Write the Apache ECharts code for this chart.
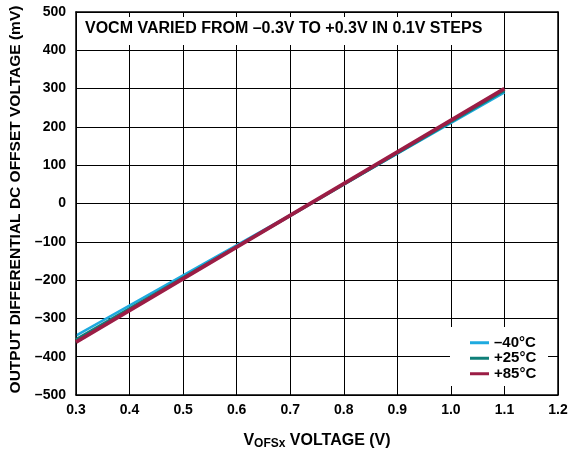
<!DOCTYPE html>
<html><head><meta charset="utf-8">
<script src="https://cdn.jsdelivr.net/npm/echarts@6/dist/echarts.min.js"></script>
<style>html,body{margin:0;padding:0;background:#fff}#c{width:572px;height:450px}</style>
</head><body><div id="c"></div>
<script>
const xValues = [0.3, 0.7, 1.1];
const seriesNames = ['\u201340\u00b0C', '+25\u00b0C', '+85\u00b0C'];
const valsM40 = [-345, -30, 290];
const vals25 = [-355, -32, 295];
const vals85 = [-362, -31, 300];
const xTicks = [0.3, 0.4, 0.5, 0.6, 0.7, 0.8, 0.9, 1.0, 1.1, 1.2];
const yTicks = [-500, -400, -300, -200, -100, 0, 100, 200, 300, 400, 500];
const titleText = 'VOCM VARIED FROM \u20130.3V TO +0.3V IN 0.1V STEPS';
const yTitle = 'OUTPUT DIFFERENTIAL DC OFFSET VOLTAGE (mV)';
const colors = ['#1eaadf', '#0f7f78', '#9b1d45'];
const widths = [2.5, 3, 4];

const FONT = 'Liberation Sans, Arial, sans-serif';
const chart = echarts.init(document.getElementById('c'), null, {renderer: 'canvas'});
const fmtY = v => (v < 0 ? '\u2013' + Math.abs(v) : String(v));
const fmtX = v => (Math.abs(v - 1) < 1e-9 ? '1.0' : v.toFixed(1));
const data = [valsM40, vals25, vals85];
const axLine = {show: true, onZero: false, lineStyle: {color: '#000', width: 1.5}};
const tick = {show: true, inside: true, length: 5, lineStyle: {color: '#000'}};

chart.setOption({
  animation: false,
  grid: {left: 76, right: 14, top: 12, bottom: 55, containLabel: false, outerBoundsMode: 'none'},
  xAxis: [
    {type: 'value', position: 'bottom', min: 0.3, max: 1.2, interval: 0.1, z: 3,
     axisLine: axLine, axisTick: tick, splitLine: {show: false},
     axisLabel: {color: '#000', fontFamily: FONT, fontWeight: 'bold', fontSize: 14, margin: 8, formatter: fmtX},
     name: '{a|V}{s|OFSx}{a| VOLTAGE (V)}', nameLocation: 'middle', nameGap: 36,
     nameTextStyle: {rich: {a: {fontFamily: FONT, fontWeight: 'bold', fontSize: 16, color: '#000'},
                            s: {fontFamily: FONT, fontWeight: 'bold', fontSize: 12, color: '#000', verticalAlign: 'bottom', padding: [7,0,0,0]}}}},
    {type: 'value', position: 'top', min: 0.3, max: 1.2, interval: 0.1, z: 3,
     axisLine: axLine, axisTick: tick, splitLine: {show: false}, axisLabel: {show: false}},
    {type: 'value', position: 'bottom', min: 0.3, max: 1.2, interval: 0.1, z: 0,
     axisLine: {show: false}, axisTick: {show: false}, axisLabel: {show: false},
     splitLine: {show: true, lineStyle: {color: '#000', width: 1}}}
  ],
  yAxis: [
    {type: 'value', position: 'left', min: -500, max: 500, interval: 100, z: 3,
     axisLine: axLine, axisTick: tick, splitLine: {show: false},
     axisLabel: {color: '#000', fontFamily: FONT, fontWeight: 'bold', fontSize: 14, margin: 10, formatter: fmtY},
     name: yTitle, nameLocation: 'middle', nameGap: 47, nameRotate: 90,
     nameTextStyle: {fontFamily: FONT, fontWeight: 'bold', fontSize: 15.5, color: '#000', padding: [0,0,0,8]}},
    {type: 'value', position: 'right', min: -500, max: 500, interval: 100, z: 3,
     axisLine: axLine, axisTick: tick, splitLine: {show: false}, axisLabel: {show: false}},
    {type: 'value', position: 'left', min: -500, max: 500, interval: 100, z: 0,
     axisLine: {show: false}, axisTick: {show: false}, axisLabel: {show: false},
     splitLine: {show: true, lineStyle: {color: '#000', width: 1}}}
  ],
  legend: {
    orient: 'vertical', left: 466, top: 333, itemGap: 0, itemWidth: 19, itemHeight: 3,
    icon: 'rect', z: 5, padding: [2, 4],
    textStyle: {fontFamily: FONT, fontWeight: 'bold', fontSize: 15, color: '#000', lineHeight: 15.5},
    data: seriesNames
  },
  graphic: [
    {type: 'rect', z: 1, shape: {x: 77, y: 13, width: 412, height: 32}, style: {fill: '#fff'}},
    {type: 'rect', z: 1, shape: {x: 450, y: 327, width: 98, height: 59}, style: {fill: '#fff'}},
    {type: 'text', z: 4, left: 85, top: 21,
     style: {text: titleText, fontFamily: FONT, fontWeight: 'bold', fontSize: 16, fill: '#000'}}
  ],
  series: data.map((d, i) => ({
    name: seriesNames[i], type: 'line', xAxisIndex: 0, yAxisIndex: 0, z: 2 + i,
    showSymbol: false, symbol: 'none',
    data: d.map((v, j) => [xValues[j], v]),
    lineStyle: {color: colors[i], width: widths[i]},
    itemStyle: {color: colors[i]}
  }))
});
</script></body></html>
